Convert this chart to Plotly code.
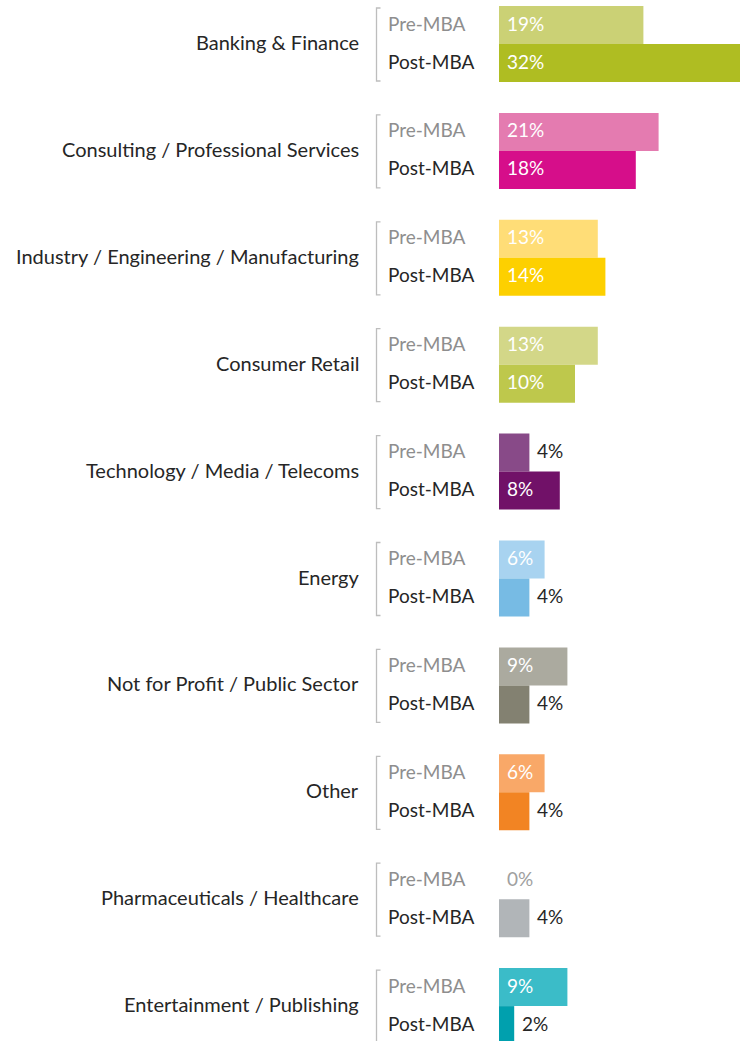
import plotly.graph_objects as go
import numpy as np

categories = [
    "Banking & Finance",
    "Consulting / Professional Services",
    "Industry / Engineering / Manufacturing",
    "Consumer Retail",
    "Technology / Media / Telecoms",
    "Energy",
    "Not for Profit / Public Sector",
    "Other",
    "Pharmaceuticals / Healthcare",
    "Entertainment / Publishing",
]
pre_mba = [19, 21, 13, 13, 4, 6, 9, 6, 0, 9]
post_mba = [32, 18, 14, 10, 8, 4, 4, 4, 4, 2]

pre_colors = ["#cbd175", "#e47bb0", "#ffdd77", "#d3d788", "#884a88",
              "#a8d3f0", "#abaa9f", "#f9a868", "#b1b5b8", "#3bbcc8"]
post_colors = ["#afbd22", "#d60e8a", "#fdd000", "#bec84c", "#711168",
               "#77bbe4", "#838171", "#f28423", "#b1b5b8", "#00a0ae"]

W, H = 740, 1041
PX_PER_PCT = 7.6
BAR_LEFT = 499          # pixel where bars start
BAR_PX = 38             # bar thickness in pixels
PERIOD = 106.9 / BAR_PX # group spacing in y units

x0 = -BAR_LEFT / PX_PER_PCT
x1 = x0 + W / PX_PER_PCT
y_top = -0.5 - 6 / BAR_PX
y_bot = y_top + H / BAR_PX


def px(p):
    return x0 + p / PX_PER_PCT


idx = np.arange(len(categories))
y_pre = idx * PERIOD
y_post = idx * PERIOD + 1

font = "Lato, 'Open Sans', sans-serif"
dark = "#262626"
grey = "#8e8e8e"

fig = go.Figure()
fig.add_trace(go.Bar(y=y_pre, x=pre_mba, orientation="h", width=1,
                     marker=dict(color=pre_colors, line_width=0), hoverinfo="skip"))
fig.add_trace(go.Bar(y=y_post, x=post_mba, orientation="h", width=1,
                     marker=dict(color=post_colors, line_width=0), hoverinfo="skip"))

ann = []
shapes = []
for i, cat in enumerate(categories):
    yc = (y_pre[i] + y_post[i]) / 2
    ann.append(dict(x=px(361), y=yc, text=cat, xanchor="right", yanchor="middle",
                    yshift=2, showarrow=False, font=dict(size=20, color=dark, family=font)))
    ann.append(dict(x=px(386), y=y_pre[i], text="Pre-MBA", xanchor="left", yanchor="middle",
                    yshift=2, showarrow=False, font=dict(size=19, color=grey, family=font)))
    ann.append(dict(x=px(386), y=y_post[i], text="Post-MBA", xanchor="left", yanchor="middle",
                    yshift=2, showarrow=False, font=dict(size=19, color=dark, family=font)))
    for yv, val in ((y_pre[i], pre_mba[i]), (y_post[i], post_mba[i])):
        if val == 0:
            xv, col = 0, "#a0a0a0"
        elif val >= 6:
            xv, col = 0, "white"
        else:
            xv, col = val, dark
        ann.append(dict(x=xv, y=yv, text=f"{val}%", xanchor="left", yanchor="middle",
                        xshift=6, yshift=2, showarrow=False,
                        font=dict(size=19, color=col, family=font)))
    # bracket
    bt = y_pre[i] - 0.5 + 2 / BAR_PX
    bb = y_post[i] + 0.5 - 1 / BAR_PX
    bx = px(376.5)
    bx2 = px(380.5)
    shapes.append(dict(type="path", xref="x", yref="y",
                       path=f"M{bx2},{bt} L{bx},{bt} L{bx},{bb} L{bx2},{bb}",
                       line=dict(color="#bdbdbd", width=1.3)))

fig.update_layout(
    width=W, height=H,
    margin=dict(l=0, r=0, t=0, b=0),
    paper_bgcolor="white", plot_bgcolor="white",
    showlegend=False,
    barmode="overlay",
    xaxis=dict(range=[x0, x1], visible=False, fixedrange=True),
    yaxis=dict(range=[y_bot, y_top], visible=False, fixedrange=True),
    annotations=ann,
    shapes=shapes,
)

fig.write_html("out.html", config={"displayModeBar": False},
               post_script="document.body.style.margin='0';document.body.style.overflow='hidden';")
